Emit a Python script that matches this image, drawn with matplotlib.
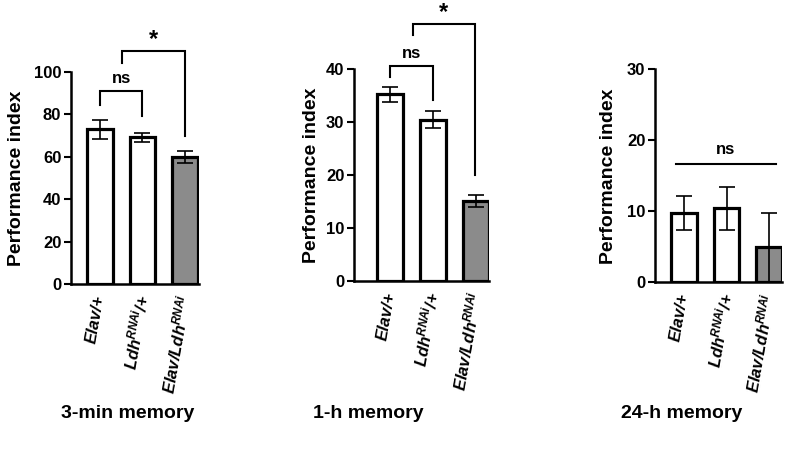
import matplotlib
import matplotlib.pyplot as plt

matplotlib.use('Agg')

plt.rcParams['font.family'] = ['Liberation Sans', 'DejaVu Sans']
plt.rcParams['font.weight'] = 'bold'
plt.rcParams['mathtext.fontset'] = 'custom'
plt.rcParams['mathtext.it'] = 'Liberation Sans:italic:bold'
plt.rcParams['mathtext.rm'] = 'Liberation Sans:italic:bold'
plt.rcParams['mathtext.bf'] = 'Liberation Sans:italic:bold'

# data
genotypes = ["Elav/+", r"Ldh$^{RNAi}$/+", r"Elav/Ldh$^{RNAi}$"]
panel_titles = ["3-min memory", "1-h memory", "24-h memory"]
mem_3min = [72.9, 69.2, 60.0]
err_3min = [4.3, 2.2, 2.7]
mem_1h = [35.2, 30.4, 15.1]
err_1h = [1.4, 1.6, 1.2]
mem_24h = [9.8, 10.4, 4.9]
err_24h = [2.4, 3.0, 4.8]
y_max = [100, 40, 30]
y_step = [20, 10, 10]

bar_colors = ["white", "white", "#8b8b8b"]

# axes boxes (fig fractions) and x-limits
boxes = [
    [0.0888, 0.3786, 0.160, 0.4639],
    [0.4425, 0.3851, 0.169, 0.4639],
    [0.8188, 0.3823, 0.159, 0.4661],
]
xlims = [(-0.68, 2.33), (-0.85, 2.31), (-0.68, 2.31)]
title_x = [0.160, 0.460, 0.852]
ylabel_pad = [6, 4, 7]


def bracket(ax, x0, x1, top, y0, y1, label, size, gap):
    ax.plot([x0, x0, x1, x1], [y0, top, top, y1], color='black', lw=1.5,
            clip_on=False, solid_joinstyle='miter')
    ax.text((x0 + x1) / 2, top + gap, label, ha='center', va='bottom',
            fontsize=size, fontweight='bold', clip_on=False)


fig = plt.figure(figsize=(8, 4.57), dpi=100)
series = [(mem_3min, err_3min), (mem_1h, err_1h), (mem_24h, err_24h)]
axes = []
for i, (vals, errs) in enumerate(series):
    ax = fig.add_axes(boxes[i])
    axes.append(ax)
    x = range(len(vals))
    ax.bar(x, vals, width=0.61, color=bar_colors, edgecolor='black',
           linewidth=2.3, zorder=2)
    ax.errorbar(x, vals, yerr=errs, fmt='none', ecolor='black',
                elinewidth=1.2, capsize=6, capthick=1.2, zorder=3)
    ax.set_xlim(*xlims[i])
    ax.set_ylim(0, y_max[i])
    ax.set_yticks(range(0, y_max[i] + 1, y_step[i]))
    ax.set_xticks(list(x))
    ax.set_xticklabels(genotypes, rotation=80, ha='right', va='center',
                       rotation_mode='anchor', fontsize=12,
                       fontstyle='italic', fontweight='bold')
    ax.tick_params(axis='x', length=0, pad=8)
    ax.tick_params(axis='y', length=5, width=1.5, labelsize=12, pad=2)
    for lab in ax.get_yticklabels():
        lab.set_fontweight('bold')
    ax.spines['top'].set_visible(False)
    ax.spines['right'].set_visible(False)
    ax.spines['left'].set_linewidth(1.8)
    ax.spines['bottom'].set_linewidth(1.8)
    ax.set_ylabel("Performance index", fontsize=14, fontweight='bold',
                  labelpad=ylabel_pad[i])
    fig.text(title_x[i], 0.096, panel_titles[i], ha='center', va='center',
             fontsize=14, fontweight='bold')

# significance marks
bracket(axes[0], 0, 1, 91, 84.4, 79, "ns", 12, 2.5)
bracket(axes[0], 0.51, 2, 110, 104.4, 70, "*", 17, 0.0)
bracket(axes[1], 0, 1, 40.6, 38.5, 34.2, "ns", 12, 1.0)
bracket(axes[1], 0.52, 1.98, 48.5, 46.4, 20, "*", 17, 0.0)
axes[2].plot([-0.19, 2.16], [16.6, 16.6], color='black', lw=1.5)
axes[2].text(0.985, 17.6, "ns", ha='center', va='bottom', fontsize=12,
             fontweight='bold')

plt.savefig("out.png", dpi=100, facecolor='white')
